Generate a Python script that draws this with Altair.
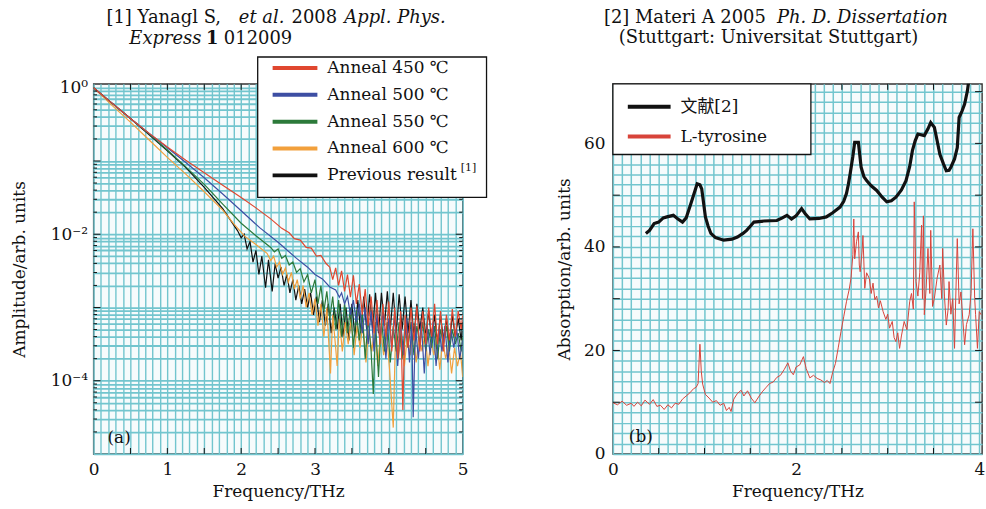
import math

import altair as alt
import pandas as pd

FONT = "DejaVu Serif, Noto Sans CJK SC"
INK = "#111111"
GRID = "#72c5ce"

# ---------------- panel (a): THz amplitude spectra ----------------
# each entry: (frequency in THz, log10 of normalised amplitude)
anneal_450 = [
    (0.00, 0.00), (0.25, -0.21), (0.50, -0.42), (0.75, -0.62), (1.00, -0.81), (1.25, -0.99),
    (1.50, -1.16), (1.75, -1.33), (2.00, -1.50), (2.20, -1.64), (2.40, -1.79), (2.55, -1.92),
    (2.65, -1.98), (2.72, -2.06), (2.80, -2.08), (2.88, -2.18), (2.95, -2.19), (3.02, -2.30),
    (3.08, -2.29), (3.15, -2.40), (3.20, -2.45), (3.24, -2.62), (3.28, -2.46), (3.32, -2.70),
    (3.36, -2.50), (3.40, -2.78), (3.44, -2.55), (3.48, -2.86), (3.52, -2.56), (3.56, -2.95),
    (3.60, -2.68), (3.64, -3.10), (3.68, -2.75), (3.72, -3.25), (3.76, -2.85), (3.80, -3.35),
    (3.84, -2.90), (3.88, -3.50), (3.92, -2.95), (3.96, -3.40), (4.00, -2.92), (4.04, -3.60),
    (4.08, -3.00), (4.12, -3.70), (4.16, -3.05), (4.19, -4.40), (4.22, -3.10), (4.26, -3.55),
    (4.30, -3.00), (4.34, -3.45), (4.38, -2.98), (4.42, -3.60), (4.46, -3.05), (4.50, -3.50),
    (4.54, -3.00), (4.58, -3.40), (4.62, -2.95), (4.66, -3.50), (4.70, -3.05), (4.74, -3.60),
    (4.78, -3.10), (4.82, -3.45), (4.86, -3.02), (4.90, -3.40), (4.94, -3.05), (4.98, -3.30),
    (5.00, -3.10),
]
anneal_500 = [
    (0.00, 0.00), (0.25, -0.21), (0.50, -0.42), (0.75, -0.62), (1.00, -0.82), (1.25, -1.02),
    (1.50, -1.23), (1.75, -1.45), (2.00, -1.68), (2.25, -1.91), (2.50, -2.11), (2.75, -2.33),
    (2.90, -2.45), (3.00, -2.55), (3.10, -2.61), (3.20, -2.72), (3.28, -2.76), (3.33, -2.86),
    (3.36, -2.80), (3.40, -2.95), (3.44, -2.85), (3.48, -3.10), (3.52, -2.90), (3.56, -3.20),
    (3.60, -2.95), (3.64, -3.35), (3.68, -3.00), (3.72, -3.50), (3.76, -3.05), (3.80, -3.60),
    (3.84, -3.10), (3.88, -3.45), (3.92, -3.05), (3.96, -3.70), (4.00, -3.15), (4.04, -3.55),
    (4.08, -3.10), (4.12, -3.80), (4.16, -3.20), (4.20, -3.65), (4.24, -3.15), (4.28, -3.75),
    (4.31, -3.20), (4.33, -4.50), (4.36, -3.25), (4.40, -3.70), (4.44, -3.20), (4.48, -3.90),
    (4.52, -3.25), (4.56, -3.65), (4.60, -3.20), (4.64, -3.80), (4.68, -3.30), (4.72, -3.60),
    (4.76, -3.25), (4.80, -3.75), (4.84, -3.30), (4.88, -3.55), (4.92, -3.30), (4.96, -3.70),
    (5.00, -3.45),
]
anneal_550 = [
    (0.00, 0.00), (0.25, -0.21), (0.50, -0.42), (0.75, -0.63), (1.00, -0.85), (1.25, -1.08),
    (1.50, -1.32), (1.75, -1.59), (2.00, -1.85), (2.20, -2.02), (2.40, -2.18), (2.45, -2.24),
    (2.50, -2.20), (2.55, -2.33), (2.60, -2.29), (2.65, -2.42), (2.70, -2.38), (2.75, -2.52),
    (2.80, -2.47), (2.85, -2.65), (2.90, -2.55), (2.95, -2.80), (3.00, -2.62), (3.04, -2.95),
    (3.08, -2.70), (3.12, -3.05), (3.16, -2.78), (3.20, -3.15), (3.24, -2.85), (3.28, -3.30),
    (3.32, -2.90), (3.36, -3.40), (3.40, -2.95), (3.44, -3.35), (3.48, -3.00), (3.52, -3.55),
    (3.56, -3.05), (3.60, -3.45), (3.64, -3.10), (3.68, -3.70), (3.72, -3.15), (3.76, -3.60),
    (3.79, -4.18), (3.82, -3.20), (3.86, -3.95), (3.90, -3.15), (3.94, -3.60), (3.98, -3.20),
    (4.02, -3.75), (4.06, -3.25), (4.10, -3.60), (4.14, -3.20), (4.18, -3.70), (4.22, -3.25),
    (4.26, -3.55), (4.30, -3.20), (4.34, -3.65), (4.38, -3.25), (4.42, -3.50), (4.46, -3.20),
    (4.50, -3.60), (4.54, -3.30), (4.58, -3.55), (4.62, -3.25), (4.66, -3.70), (4.70, -3.30),
    (4.74, -3.50), (4.78, -3.25), (4.82, -3.60), (4.86, -3.30), (4.90, -3.50), (4.94, -3.35),
    (4.98, -3.60), (5.00, -3.40),
]
anneal_600 = [
    (0.00, 0.00), (0.25, -0.24), (0.50, -0.47), (0.75, -0.71), (1.00, -0.95), (1.25, -1.18),
    (1.50, -1.42), (1.75, -1.67), (1.90, -1.86), (2.05, -2.03), (2.20, -2.14), (2.35, -2.26),
    (2.40, -2.36), (2.44, -2.30), (2.48, -2.45), (2.52, -2.38), (2.56, -2.55), (2.60, -2.46),
    (2.64, -2.65), (2.68, -2.52), (2.72, -2.75), (2.76, -2.62), (2.80, -2.88), (2.84, -2.70),
    (2.88, -3.00), (2.92, -2.80), (2.96, -3.10), (3.00, -2.88), (3.04, -3.25), (3.08, -2.95),
    (3.12, -3.40), (3.16, -3.00), (3.21, -3.90), (3.24, -3.10), (3.28, -3.55), (3.30, -3.80),
    (3.33, -3.15), (3.37, -3.60), (3.41, -3.20), (3.45, -3.50), (3.49, -3.15), (3.53, -3.65),
    (3.57, -3.25), (3.61, -3.55), (3.65, -3.20), (3.69, -3.75), (3.73, -3.30), (3.77, -3.60),
    (3.81, -3.25), (3.85, -3.80), (3.89, -3.30), (3.93, -3.65), (3.97, -3.35), (4.01, -3.85),
    (4.06, -4.64), (4.09, -3.40), (4.13, -3.70), (4.17, -3.35), (4.21, -3.80), (4.25, -3.40),
    (4.29, -3.65), (4.33, -3.35), (4.37, -3.75), (4.41, -3.40), (4.45, -3.60), (4.49, -3.35),
    (4.53, -3.80), (4.57, -3.45), (4.61, -3.65), (4.65, -3.40), (4.69, -3.85), (4.73, -3.45),
    (4.77, -3.70), (4.81, -3.50), (4.85, -3.90), (4.89, -3.55), (4.93, -3.80), (4.97, -3.60),
    (5.00, -3.95),
]
previous_result = [
    (0.00, 0.00), (0.25, -0.21), (0.50, -0.42), (0.75, -0.64), (1.00, -0.86), (1.25, -1.09),
    (1.50, -1.36), (1.75, -1.65), (1.95, -1.95), (2.00, -2.05), (2.04, -2.00), (2.08, -2.20),
    (2.12, -2.10), (2.16, -2.38), (2.20, -2.22), (2.24, -2.55), (2.28, -2.30), (2.33, -2.73),
    (2.37, -2.35), (2.42, -2.78), (2.46, -2.40), (2.50, -2.60), (2.54, -2.45), (2.58, -2.70),
    (2.62, -2.55), (2.66, -2.80), (2.70, -2.62), (2.74, -2.90), (2.78, -2.70), (2.82, -2.95),
    (2.86, -2.75), (2.90, -3.00), (2.94, -2.80), (2.98, -3.10), (3.02, -2.85), (3.06, -3.20),
    (3.10, -2.90), (3.14, -3.25), (3.18, -2.95), (3.22, -3.35), (3.26, -3.00), (3.30, -3.30),
    (3.34, -2.95), (3.38, -3.40), (3.42, -3.00), (3.46, -3.45), (3.50, -2.95), (3.54, -3.40),
    (3.58, -2.90), (3.62, -3.35), (3.66, -2.85), (3.70, -3.30), (3.74, -2.82), (3.78, -3.30),
    (3.82, -2.80), (3.86, -3.35), (3.90, -2.80), (3.94, -3.25), (3.98, -2.78), (4.02, -3.30),
    (4.06, -2.80), (4.10, -3.35), (4.14, -2.82), (4.18, -3.30), (4.22, -2.85), (4.26, -3.35),
    (4.30, -2.90), (4.34, -3.40), (4.38, -2.95), (4.42, -3.30), (4.46, -3.00), (4.50, -3.40),
    (4.54, -3.05), (4.58, -3.45), (4.62, -3.10), (4.66, -3.50), (4.70, -3.10), (4.74, -3.45),
    (4.78, -3.15), (4.82, -3.50), (4.86, -3.10), (4.90, -3.40), (4.94, -3.15), (4.98, -3.45),
    (5.00, -3.20),
]

a_names = ["Anneal 450 ℃", "Anneal 500 ℃", "Anneal 550 ℃", "Anneal 600 ℃", "Previous result"]
a_colors = ["#e0472f", "#3d4ea3", "#2c7a3a", "#f2a03c", INK]
a_series = [anneal_450, anneal_500, anneal_550, anneal_600, previous_result]

# ---------------- panel (b): absorption spectra ----------------
reference_2 = [
    (0.36, 42.6), (0.40, 43.2), (0.45, 44.5), (0.50, 44.8), (0.55, 45.6), (0.59, 45.8),
    (0.66, 46.1), (0.71, 45.4), (0.76, 44.8), (0.80, 45.6), (0.85, 48.3), (0.89, 50.5),
    (0.92, 52.2), (0.95, 52.0), (0.97, 51.2), (0.99, 48.5), (1.01, 45.8), (1.04, 44.0),
    (1.07, 42.6), (1.12, 41.8), (1.21, 41.3), (1.30, 41.5), (1.36, 41.9), (1.42, 42.6),
    (1.46, 43.2), (1.50, 44.0), (1.54, 44.8), (1.65, 45.0), (1.79, 45.1), (1.85, 45.6),
    (1.90, 46.1), (1.95, 45.4), (2.00, 46.0), (2.06, 47.4), (2.10, 46.4), (2.15, 45.4),
    (2.25, 45.5), (2.33, 45.8), (2.40, 46.6), (2.48, 47.7), (2.52, 48.8), (2.55, 50.3),
    (2.57, 52.0), (2.59, 54.1), (2.62, 57.5), (2.64, 60.2), (2.68, 60.2), (2.70, 57.0),
    (2.71, 55.4), (2.74, 53.6), (2.77, 52.8), (2.82, 51.8), (2.88, 50.9), (2.94, 49.6),
    (2.99, 48.7), (3.04, 48.9), (3.09, 49.6), (3.15, 51.0), (3.20, 52.8), (3.24, 55.5),
    (3.27, 58.6), (3.30, 60.5), (3.33, 61.8), (3.40, 61.5), (3.44, 62.8), (3.47, 64.0),
    (3.51, 63.1), (3.54, 60.5), (3.57, 57.9), (3.61, 56.0), (3.64, 54.7), (3.67, 54.8),
    (3.69, 55.4), (3.73, 57.0), (3.76, 59.2), (3.78, 65.0), (3.81, 66.2), (3.84, 67.6),
    (3.87, 70.1), (3.89, 72.7), (3.91, 76.0),
]
l_tyrosine = [
    (0.00, 9.9), (0.05, 9.5), (0.10, 10.2), (0.15, 9.4), (0.20, 9.8), (0.23, 9.2), (0.27, 10.0),
    (0.31, 9.3), (0.35, 10.4), (0.40, 9.6), (0.44, 10.5), (0.48, 9.2), (0.52, 9.4), (0.56, 8.6),
    (0.60, 9.5), (0.64, 8.9), (0.68, 9.8), (0.72, 9.6), (0.76, 10.6), (0.80, 11.2), (0.84, 11.8),
    (0.88, 12.6), (0.91, 12.9), (0.93, 13.6), (0.95, 21.2), (0.965, 16.0), (0.98, 13.5),
    (1.01, 11.5), (1.05, 10.8), (1.09, 10.0), (1.13, 10.3), (1.17, 9.4), (1.21, 9.8), (1.24, 8.4),
    (1.27, 9.0), (1.29, 8.2), (1.32, 10.6), (1.36, 11.7), (1.40, 12.3), (1.43, 11.2), (1.47, 12.2),
    (1.51, 10.8), (1.55, 9.9), (1.59, 11.0), (1.63, 12.0), (1.67, 12.8), (1.71, 13.6), (1.75, 13.9),
    (1.79, 14.8), (1.83, 15.2), (1.87, 16.3), (1.91, 17.6), (1.94, 16.0), (1.97, 15.3), (2.00, 16.8),
    (2.04, 17.2), (2.08, 18.8), (2.11, 16.5), (2.15, 14.7), (2.19, 15.2), (2.23, 14.6), (2.27, 14.3),
    (2.31, 13.8), (2.34, 14.2), (2.37, 13.6), (2.40, 15.8), (2.43, 17.5), (2.46, 20.5), (2.49, 23.6),
    (2.52, 26.5), (2.55, 29.4), (2.58, 31.8), (2.60, 34.0), (2.62, 38.5), (2.63, 45.4), (2.64, 37.7),
    (2.66, 41.0), (2.68, 42.9), (2.69, 36.5), (2.70, 35.2), (2.72, 39.0), (2.73, 42.2), (2.75, 32.0),
    (2.77, 35.0), (2.80, 33.9), (2.82, 31.0), (2.84, 33.0), (2.86, 29.8), (2.88, 30.5), (2.90, 28.2),
    (2.92, 29.6), (2.95, 27.5), (2.98, 26.0), (3.00, 27.0), (3.02, 24.3), (3.05, 25.6), (3.07, 22.5),
    (3.09, 21.7), (3.11, 23.4), (3.13, 20.4), (3.15, 22.8), (3.18, 25.6), (3.21, 24.0), (3.24, 29.4),
    (3.26, 31.0), (3.28, 28.0), (3.29, 48.7), (3.31, 33.3), (3.33, 30.5), (3.35, 35.0), (3.37, 44.2),
    (3.38, 30.0), (3.39, 46.0), (3.40, 26.9), (3.42, 32.0), (3.44, 39.7), (3.46, 31.0), (3.47, 43.2),
    (3.49, 28.5), (3.51, 30.1), (3.54, 34.0), (3.57, 36.5), (3.59, 30.0), (3.60, 39.7), (3.62, 30.5),
    (3.64, 24.9), (3.66, 28.0), (3.67, 33.3), (3.69, 27.0), (3.71, 30.0), (3.73, 20.4), (3.74, 28.0),
    (3.76, 41.6), (3.78, 29.0), (3.80, 31.3), (3.82, 26.0), (3.84, 21.1), (3.86, 25.0), (3.89, 26.9),
    (3.91, 31.0), (3.93, 43.5), (3.95, 30.0), (3.96, 26.9), (3.98, 20.4), (4.00, 27.5), (4.02, 26.9),
]
b_names = ["文献[2]", "L-tyrosine"]
b_colors = [INK, "#d8443a"]

W, H = 371, 372

# ---------------- shared encodings ----------------
xa_grid = [round(i * 0.1, 1) for i in range(51)]
ya_grid = [k * 10.0 ** e for e in range(-5, 1) for k in range(1, 10) if k * 10.0 ** e <= 1.0]

xa = alt.X(
    "f:Q",
    scale=alt.Scale(domain=[0, 5], nice=False, zero=False),
    axis=alt.Axis(
        title="Frequency/THz", values=xa_grid, grid=True, gridColor=GRID, gridWidth=1.4,
        labelExpr="datum.value % 1 == 0 ? format(datum.value, 'd') : ''",
        labelOverlap=False, labelFlush=False, labelPadding=8, titlePadding=6,
    ),
)
ya = alt.Y(
    "amp:Q",
    scale=alt.Scale(type="log", domain=[1e-5, 1.13], nice=False),
    axis=alt.Axis(
        title="Amplitude/arb. units", values=ya_grid, grid=True, gridColor=GRID, gridWidth=1.8,
        labelExpr=(
            "abs(datum.value - 1) < 1e-9 ? '10⁰' : "
            "(abs(datum.value - 0.01) < 1e-11 ? '10⁻²' : "
            "(abs(datum.value - 0.0001) < 1e-13 ? '10⁻⁴' : ''))"
        ),
        labelOverlap=False, labelPadding=6, titlePadding=22,
    ),
)

xb_grid = [round(i * 0.1, 1) for i in range(41)]
yb_grid = list(range(0, 72, 2))
xb = alt.X(
    "f:Q",
    scale=alt.Scale(domain=[0, 4.03], nice=False, zero=False),
    axis=alt.Axis(
        title="Frequency/THz", values=xb_grid, grid=True, gridColor=GRID, gridWidth=1.5,
        labelExpr="datum.value % 2 == 0 ? format(datum.value, 'd') : ''",
        labelOverlap=False, labelFlush=False, labelPadding=8, titlePadding=6,
    ),
)
yb = alt.Y(
    "v:Q",
    scale=alt.Scale(domain=[0, 71.5], nice=False, zero=False),
    axis=alt.Axis(
        title="Absorption/arb. units", values=yb_grid, grid=True, gridColor=GRID, gridWidth=1.5,
        labelExpr="datum.value % 20 == 0 ? datum.label : ''",
        labelOverlap=False, labelPadding=8, titlePadding=10,
    ),
)


def one_row():
    return pd.DataFrame({"k": [0]})


def text_at(txt, x, y, size=17, style="normal", weight="normal"):
    return alt.Chart(one_row()).mark_text(
        font=FONT, fontSize=size, fontStyle=style, fontWeight=weight, color=INK,
        align="left", baseline="middle",
    ).encode(x=alt.value(x), y=alt.value(y), text=alt.value(txt))


def inner_ticks(xenc, yenc, xcol, xvals, ycol, yvals_major, yvals_minor=()):
    """Short frame ticks pointing into the plot on all four sides."""
    out = []
    xdf = pd.DataFrame({xcol: xvals})
    for y0, y1 in ((H, H - 6), (0, 6)):
        out.append(alt.Chart(xdf).mark_rule(color=INK, strokeWidth=1).encode(
            x=xenc, y=alt.value(y0), y2=alt.value(y1)))
    for vals, ln in ((yvals_major, 7), (yvals_minor, 3.5)):
        if len(vals) == 0:
            continue
        ydf = pd.DataFrame({ycol: list(vals)})
        for x0, x1 in ((0, ln), (W, W - ln)):
            out.append(alt.Chart(ydf).mark_rule(color=INK, strokeWidth=1).encode(
                y=yenc, x=alt.value(x0), x2=alt.value(x1)))
    return out


# ---------------- panel (a) ----------------
a_layers = []
for pts, color in reversed(list(zip(a_series, a_colors))):
    df = pd.DataFrame(pts, columns=["f", "lg"])
    df["amp"] = 10.0 ** df["lg"]
    a_layers.append(alt.Chart(df).mark_line(color=color, strokeWidth=1.2, clip=True).encode(x=xa, y=ya))

minor_a = [v for v in ya_grid if v > 1e-5 and abs(v - 10 ** round(math.log10(v))) > 1e-12]
a_layers += inner_ticks(xa, ya, "f", [i * 0.5 for i in range(1, 10)], "amp",
                        [1e-4, 1e-3, 1e-2, 1e-1], minor_a)

# legend box, partly above and right of the frame
a_layers.append(alt.Chart(one_row()).mark_rect(fill="white", stroke=INK, strokeWidth=1.3).encode(
    x=alt.value(165), x2=alt.value(395), y=alt.value(-27), y2=alt.value(114)))
for i, (name, color) in enumerate(zip(a_names, a_colors)):
    ry = -16 + 27 * i
    a_layers.append(alt.Chart(one_row()).mark_rule(color=color, strokeWidth=4).encode(
        x=alt.value(180), x2=alt.value(225), y=alt.value(ry)))
    a_layers.append(text_at(name, 235, ry))
a_layers.append(text_at("[1]", 369, -16 + 27 * 4 - 7, size=11))

a_layers.append(text_at("(a)", 14, 356))

# reference line above the panel
for txt, x, y, style, weight in [
    ("[1] Yanagl S,", 13, -66, "normal", "normal"),
    ("et al.", 146, -66, "italic", "normal"),
    ("2008", 199, -66, "normal", "normal"),
    ("Appl. Phys.", 252, -66, "italic", "normal"),
    ("Express", 36, -45, "italic", "normal"),
    ("1", 113, -45, "normal", "bold"),
    ("012009", 131, -45, "normal", "normal"),
]:
    a_layers.append(text_at(txt, x, y, size=18, style=style, weight=weight))

panel_a = alt.layer(*a_layers).properties(width=W, height=H)

# ---------------- panel (b) ----------------
b_layers = []
df_tyr = pd.DataFrame(l_tyrosine, columns=["f", "v"])
b_layers.append(alt.Chart(df_tyr).mark_line(color=b_colors[1], strokeWidth=1.0, clip=True).encode(x=xb, y=yb))
df_ref = pd.DataFrame(reference_2, columns=["f", "v"])
b_layers.append(alt.Chart(df_ref).mark_line(color=b_colors[0], strokeWidth=3.2, clip=True).encode(x=xb, y=yb))

b_layers += inner_ticks(xb, yb, "f", [i * 0.5 for i in range(1, 8)], "v", [10, 20, 30, 40, 50, 60, 70])

b_layers.append(alt.Chart(one_row()).mark_rect(fill="white", stroke=INK, strokeWidth=1.3).encode(
    x=alt.value(0), x2=alt.value(199), y=alt.value(0), y2=alt.value(71)))
for i, (name, color) in enumerate(zip(b_names, b_colors)):
    ry = 23 + 30 * i
    b_layers.append(alt.Chart(one_row()).mark_rule(color=color, strokeWidth=4).encode(
        x=alt.value(15), x2=alt.value(58), y=alt.value(ry)))
    b_layers.append(text_at(name, 68, ry))

b_layers.append(text_at("(b)", 16, 355))

for txt, x, y, style in [
    ("[2] Materi A 2005", -9, -66, "normal"),
    ("Ph. D. Dissertation", 165, -66, "italic"),
    ("(Stuttgart: Universitat Stuttgart)", 6, -46, "normal"),
]:
    b_layers.append(text_at(txt, x, y, size=18, style=style))

panel_b = alt.layer(*b_layers).properties(width=W, height=H)

chart = (
    alt.hconcat(panel_a, panel_b, spacing=66)
    .properties(padding={"left": 9, "top": 7, "right": 0, "bottom": 0}, background="white")
    .configure_view(stroke="#333333", strokeWidth=1.4, fill="#f6fbfc")
    .configure_axis(
        labelFont=FONT, titleFont=FONT, labelFontSize=17, titleFontSize=17,
        labelColor=INK, titleColor=INK, titleFontWeight="normal",
        domain=False, ticks=False, gridOpacity=1,
    )
)

chart.save("out.html", embed_options={"renderer": "svg", "actions": False})
